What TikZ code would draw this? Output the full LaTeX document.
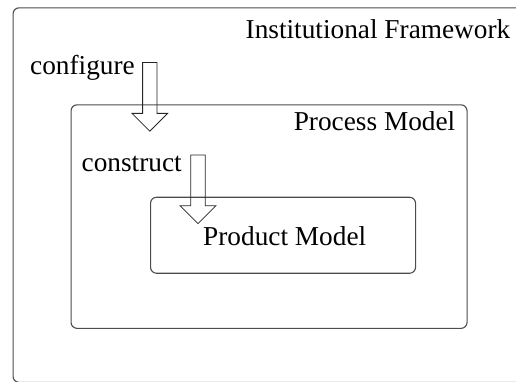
\documentclass[tikz,border=0pt]{standalone}
\usepackage{fontspec}
\setmainfont{Liberation Serif}
\begin{document}
\begin{tikzpicture}[x=1pt,y=-1pt,
  frame/.style={draw=black!70,line width=1.1pt,rounded corners=6pt,inner sep=0pt,anchor=north west},
  title/.style={font=\fontsize{27.3}{30}\selectfont,inner sep=0pt,anchor=base east},
  label/.style={font=\fontsize{27.3}{30}\selectfont,inner sep=0pt,anchor=base west},
  blockarr/.pic={\draw[black!85,line width=0.8pt,line join=miter]
    (-7.2,0) -- (-7.2,50.8) -- (-17.8,50.8) -- (0,68.6) -- (17.8,50.8) -- (7.2,50.8) -- (7.2,0) -- cycle;}]
  \clip (0,0) rectangle (516,382);
  % outer institutional frame, open on the right
  \node[frame,minimum width=530pt,minimum height=374.5pt] (inst) at (12.5,7.3) {};
  \node[title] (instT) at (510.5,38.3) {Institutional Framework};
  % process model box
  \node[frame,minimum width=396pt,minimum height=223.5pt] (proc) at (70.5,104.3) {};
  \node[title] (procT) at (455.5,130.3) {Process Model};
  % product model box
  \node[frame,minimum width=265pt,minimum height=76pt] (prod) at (150,196.7) {};
  \node[label] (prodT) at (203,245) {Product Model};
  % verbs and their block arrows
  \node[label] (cfg) at (30,75) {configure};
  \coordinate (cfgA) at (149.8,62.6);
  \pic at (cfgA) {blockarr};
  \node[label] (con) at (81.5,171.7) {construct};
  \coordinate (conA) at (198,155);
  \pic at (conA) {blockarr};
\end{tikzpicture}
\end{document}
